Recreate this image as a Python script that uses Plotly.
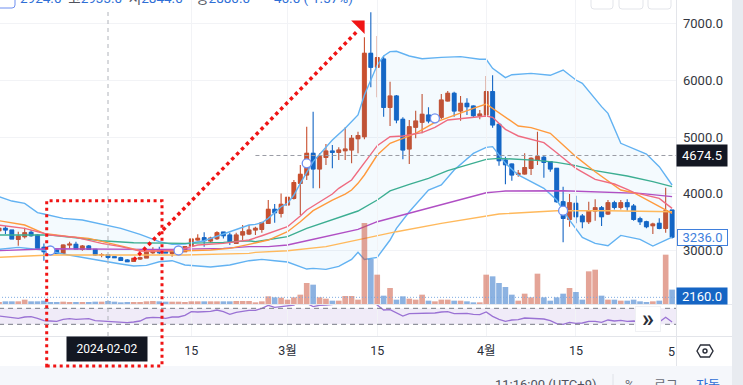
import pandas as pd
import plotly.graph_objects as go

W, H = 743, 385

dates = [d.strftime("%Y-%m-%d") for d in pd.date_range("2024-01-16", "2024-04-30")]

opens = [3349,3391,3361,3197,3244,3320,3273,3056,3021,3009,2950,3097,3109,3021,3079,3021,
 2921,2924,2891,2874,2833,2809,2850,2868,2962,3009,2979,2950,2974,2979,3079,3185,3226,3167,3209,3326,3273,3126,3273,3291,3361,3373,3479,3725,3655,
 3802,3919,4184,4331,4712,4436,4642,4754,4730,4759,4771,4971,5006,6474,6228,6374,5523,5723,5311,4789,5171,5259,5388,5300,5347,5634,5770,5458,5593,5546,5376,
 5388,5799,5223,4595,4524,4342,4348,4448,4595,4642,4566,4448,3860,3549,3831,3608,3508,3696,3755,3643,3843,3761,3843,3784,3561,3508,3438,3479,3391,3714]
highs = [3408,3432,3361,3332,3402,3361,3285,3126,3038,3021,3109,3156,3156,3097,3097,3032,
 2950,2933,2900,2891,2850,2874,2891,3009,3056,3068,3021,3021,3021,3079,3214,3285,3320,3244,3338,3332,3314,3314,3449,3449,3420,3508,3890,3819,4007,
 3949,4243,4507,5182,5447,4712,4877,4859,4818,5171,5035,5094,6756,7197,6780,6433,5975,5740,5347,5300,5464,5758,5523,5388,5758,5811,5799,5723,5681,5558,5476,
 6075,6087,5241,4654,4536,4419,4712,4642,5094,4683,4577,4460,4125,3996,3966,3643,3860,3902,3784,3890,3878,3890,3902,3819,3596,3526,3490,3567,4108,3725]
lows = [3332,3291,3197,3085,3214,3244,3032,2821,2921,2944,2944,3038,3021,2997,3009,2903,
 2880,2844,2868,2821,2792,2797,2833,2868,2938,2938,2950,2891,2950,2974,3068,3173,3068,3138,3185,3214,3097,3115,3185,3273,3273,3314,3467,3490,3584,
 3796,3900,3625,4243,4096,4096,4507,4448,4595,4595,4536,4712,4959,5875,5699,5358,5194,5241,4607,4524,4977,5065,5241,5241,5311,5623,5358,5288,5388,5347,5311,
 5358,5165,4495,4166,4231,4301,4337,4331,4507,4284,4389,3840,3144,3420,3479,3391,3467,3526,3432,3626,3725,3725,3702,3526,3449,3391,3291,3373,3314,3214]
closes = [3391,3361,3203,3256,3314,3261,3038,2979,2950,2950,3097,3115,3026,3079,3021,2921,
 2926,2880,2874,2827,2803,2862,2874,2974,2997,2962,2956,2997,3009,3068,3203,3214,3173,3220,3314,3261,3156,3273,3332,3361,3391,3490,3725,3667,3813,
 3937,4196,4342,4712,4436,4654,4754,4730,4771,4789,4977,5024,6474,6228,6398,5523,5723,5300,4771,5182,5282,5400,5282,5358,5652,5770,5458,5593,5535,5376,5405,
 5799,5212,4583,4513,4331,4360,4460,4624,4654,4554,4436,3860,3567,3843,3596,3508,3696,3755,3596,3843,3761,3843,3772,3549,3508,3420,3467,3391,3702,3236]

volumes = [300,400,400,400,650,400,400,500,300,300,350,300,300,300,300,350,
 350,450,350,250,300,300,300,400,450,400,350,350,350,300,400,400,400,400,400,400,400,450,450,450,250,400,1150,1000,950,
 650,1000,1400,3150,2900,1000,800,500,500,1200,1200,650,12150,6750,4400,1250,2400,650,1150,800,650,1400,500,400,650,650,500,500,400,250,250,
 4400,4150,3150,2550,1400,500,1550,1000,4550,1000,500,1000,1550,2400,1800,650,4900,5150,1250,650,650,500,500,650,400,300,400,500,7400,2160]

rsi_values = [50.8,48.3,46.7,45,48.3,49.2,45,39.2,38.3,37.5,42.5,44.2,42.5,44.2,44.2,39.2,
 38.3,38.3,36.7,35.8,34.2,35.8,38.3,45.8,47.5,46.7,45,48.3,48.3,52.5,61.7,60.8,60.8,62.5,65.8,61.7,55,60,62.5,65,65,70,77.5,72.5,74.2,
 76.7,78.3,86.7,82.5,74.2,77.5,78.3,80,80,82,84,85,92,88,78.3,65.8,66.7,58.3,50.8,56.7,56.7,57.5,56.7,58.3,60.8,61.7,56.7,57.5,57.5,55,54.2,
 60.8,50,42.5,37.5,40.8,41.7,45.8,45,45.8,43.3,39.2,31.7,30,35,32.5,33.3,37.5,37.5,35,40.8,38.3,40,37.5,38.3,36.7,35.8,36.7,35.8,47.5,35.8]

bb_upper_dates = ["01-16","01-18","01-20","01-22","01-23","01-26","01-29","02-01","02-04","02-07","02-10","02-12","02-14","02-17","02-20","02-24","02-25","02-26","02-27","02-28","02-29","03-01","03-02","03-03","03-05","03-08","03-10","03-12","03-13","03-15","03-16","03-17","03-18","03-20","03-22","03-25","03-28","03-31","04-01","04-02","04-03","04-04","04-05","04-08","04-11","04-13","04-15","04-16","04-19","04-20","04-22","04-25","04-26","04-28","04-30"]
bb_upper = [3949,3872,3831,3667,3643,3567,3537,3467,3391,3285,3156,3109,3115,3173,3291,3449,3461,3490,3567,3667,3772,3831,3978,4184,4566,4947,5153,5388,5740,6269,6427,6504,6510,6427,6380,6404,6416,6369,6369,6210,6134,6046,6098,6122,6087,6181,6004,5946,5535,5417,4889,4742,4701,4477,4155]

bb_lower_dates = ["01-16","01-19","01-21","01-23","01-26","01-29","02-01","02-04","02-06","02-08","02-10","02-12","02-14","02-18","02-21","02-24","02-26","02-28","03-01","03-04","03-05","03-07","03-09","03-11","03-12","03-13","03-15","03-17","03-18","03-20","03-23","03-25","03-27","03-30","04-01","04-02","04-03","04-04","04-06","04-08","04-10","04-12","04-14","04-16","04-18","04-20","04-22","04-25","04-27","04-29","04-30"]
bb_lower = [3021,3056,3032,3009,2938,2874,2821,2762,2727,2739,2803,2821,2745,2709,2745,2821,2844,2821,2797,2674,2686,2668,2721,2844,2968,2844,2880,3185,3391,3684,4066,4155,4419,4712,4818,4830,4683,4536,4331,4213,4096,3890,3537,3232,3126,3085,3267,3197,3079,3185,3238]

ma_red_dates = ["01-16","01-20","01-24","01-28","02-01","02-04","02-07","02-10","02-13","02-16","02-20","02-24","02-26","03-01","03-03","03-04","03-08","03-09","03-11","03-13","03-15","03-17","03-19","03-22","03-24","03-26","03-29","04-01","04-02","04-04","04-06","04-10","04-12","04-15","04-18","04-21","04-23","04-24","04-28","04-30"]
ma_red = [3449,3391,3273,3232,3126,3068,2991,2991,3009,3097,3126,3185,3261,3420,3608,3714,3995,4096,4242,4536,4848,5006,5018,5077,5170,5300,5341,5370,5347,5135,5018,4900,4724,4448,4254,4172,4078,4025,3919,3743]

ma_orange_dates = ["01-16","01-20","01-23","01-27","01-30","02-02","02-05","02-07","02-13","02-18","02-21","02-24","02-27","03-01","03-03","03-05","03-08","03-10","03-11","03-12","03-13","03-15","03-17","03-19","03-21","03-24","03-27","03-30","04-01","04-02","04-03","04-04","04-06","04-08","04-11","04-13","04-15","04-18","04-22","04-24","04-28","04-30"]
ma_orange = [3526,3449,3302,3244,3214,3138,3056,2997,2991,3009,3038,3109,3185,3332,3508,3702,3890,3995,4066,4184,4331,4683,4889,4977,5065,5259,5388,5505,5582,5505,5429,5358,5194,5165,5065,4859,4654,4389,4066,4019,3772,3655]

ma_teal_dates = ["01-16","01-24","01-28","02-01","02-06","02-14","02-20","02-24","02-25","02-28","03-01","03-04","03-08","03-12","03-15","03-17","03-20","03-23","03-26","03-29","04-01","04-03","04-06","04-09","04-12","04-15","04-18","04-23","04-27","04-30"]
ma_teal = [3273,3273,3226,3173,3138,3126,3144,3173,3156,3209,3244,3391,3549,3696,3890,4050,4166,4272,4407,4507,4607,4624,4607,4589,4554,4495,4407,4313,4213,4125]

ma_purple_dates = ["01-16","01-24","02-08","02-12","02-20","02-24","02-27","03-01","03-04","03-08","03-12","03-15","03-20","03-25","03-29","04-01","04-03","04-04","04-13","04-18","04-25","04-30"]
ma_purple = [2997,3032,3021,3021,3038,3068,3068,3097,3173,3273,3373,3508,3655,3802,3919,4019,4037,4048,4054,4031,4007,3949]

ma_gold_dates = ["01-16","01-24","02-14","02-24","02-25","03-01","03-07","03-12","03-18","03-25","03-31","04-03","04-12","04-20","04-30"]
ma_gold = [2880,2921,2921,2950,2968,2997,3068,3185,3332,3479,3596,3643,3702,3702,3684]

signal_dates = ["2024-01-24","2024-02-13","2024-03-04","2024-03-24","2024-04-13"]
signal_prices = [3001,3001,4536,5329,3702]

x_tick_dates = ["2024-02-15","2024-03-01","2024-03-15","2024-04-01","2024-04-15"]
x_tick_labels = ["15","3월","15","4월","15"]
y_tick_values = [3000,4000,5000,6000,7000]

FONT = "Roboto, 'Noto Sans CJK KR', sans-serif"
UP, DOWN = "#c9502e", "#1565c4"
GRID = "#f2f3f6"
RED = "#f01414"


def px(v):
    return v / W


def py(v):
    return 1 - v / H


def full(lst):
    return ["2024-" + s for s in lst]


fig = go.Figure()

fig.add_trace(go.Scatter(x=full(bb_upper_dates), y=bb_upper, mode="lines", line=dict(color="#62b2f2", width=1.4), yaxis="y", xaxis="x"))
fig.add_trace(go.Scatter(x=full(bb_lower_dates), y=bb_lower, mode="lines", line=dict(color="#62b2f2", width=1.4),
                         fill="tonexty", fillcolor="rgba(33,150,243,0.05)", yaxis="y", xaxis="x"))
for ds, vals, col in [(ma_gold_dates, ma_gold, "#ffb95c"), (ma_purple_dates, ma_purple, "#b04fc4"),
                      (ma_teal_dates, ma_teal, "#3cae92"), (ma_orange_dates, ma_orange, "#ff9a3d"),
                      (ma_red_dates, ma_red, "#ef6b80")]:
    fig.add_trace(go.Scatter(x=full(ds), y=vals, mode="lines", line=dict(color=col, width=1.4), yaxis="y", xaxis="x"))

body_colors = [UP if c >= o else DOWN for o, c in zip(opens, closes)]
fig.add_trace(go.Bar(x=dates, y=[abs(c - o) for o, c in zip(opens, closes)], base=[min(o, c) for o, c in zip(opens, closes)],
                     width=58000000, marker=dict(color=body_colors, line=dict(color=body_colors, width=0.5)), yaxis="y", xaxis="x"))
fig.add_trace(go.Candlestick(x=dates, open=opens, high=highs, low=lows, close=closes, whiskerwidth=0,
                             increasing=dict(line=dict(color=UP, width=1.1), fillcolor=UP),
                             decreasing=dict(line=dict(color=DOWN, width=1.1), fillcolor=DOWN),
                             yaxis="y", xaxis="x"))
fig.add_trace(go.Scatter(x=signal_dates, y=signal_prices, mode="markers",
                         marker=dict(size=9, color="white", line=dict(color="#6f8ff0", width=1.3)), yaxis="y", xaxis="x"))

vol_colors = ["rgba(205,90,65,0.55)" if c >= o else "rgba(45,115,200,0.55)" for o, c in zip(opens, closes)]
fig.add_trace(go.Bar(x=dates, y=volumes, marker=dict(color=vol_colors, line=dict(width=0)), yaxis="y2", xaxis="x"))
fig.add_trace(go.Scatter(x=dates, y=rsi_values, mode="lines", line=dict(color="#9a72d4", width=1.3), yaxis="y3", xaxis="x"))

# arrow head marker on the main pane
fig.add_trace(go.Scatter(x=["2024-03-12 08:00"], y=[6975], mode="markers",
                         marker=dict(symbol="triangle-ne", size=15, color=RED, line=dict(width=0)), yaxis="y", xaxis="x"))

shapes = [
    dict(type="rect", xref="paper", yref="paper", x0=0, x1=px(732), y0=py(385), y1=py(366), fillcolor="#f5f7fb", line=dict(width=0), layer="below"),
    dict(type="rect", xref="paper", yref="paper", x0=px(732), x1=1, y0=0, y1=1, fillcolor="#e8ebf0", line=dict(width=0), layer="below"),
    dict(type="rect", xref="x", yref="y3", x0="2024-01-16", x1="2024-05-05", y0=30, y1=70, fillcolor="#f0ebf8", line=dict(width=0), layer="below"),
    dict(type="line", xref="x", yref="y3", x0="2024-01-16", x1="2024-05-05", y0=70, y1=70, line=dict(color="#787b86", width=1, dash="5px,4px")),
    dict(type="line", xref="x", yref="y3", x0="2024-01-16", x1="2024-05-05", y0=30, y1=30, line=dict(color="#787b86", width=1, dash="5px,4px")),
    dict(type="line", xref="x", yref="y2", x0="2024-01-16", x1="2024-05-05", y0=1000, y1=1000, line=dict(color="#7aa8e0", width=1, dash="1px,2px")),
    dict(type="line", xref="x", yref="y", x0="2024-02-25", x1="2024-05-05", y0=4674.5, y1=4674.5, line=dict(color="#9a9ca5", width=1, dash="4px,3px")),
    dict(type="line", xref="x", yref="paper", x0="2024-02-02", x1="2024-02-02", y0=py(336), y1=py(8), line=dict(color="#b0b3ba", width=1, dash="4px,4px")),
    dict(type="line", xref="paper", yref="paper", x0=0, x1=px(732), y0=py(304.5), y1=py(304.5), line=dict(color="#e6e8ee", width=1)),
    dict(type="line", xref="paper", yref="paper", x0=0, x1=px(732), y0=py(336.5), y1=py(336.5), line=dict(color="#e3e5ea", width=1)),
    dict(type="line", xref="paper", yref="paper", x0=px(676.5), x1=px(676.5), y0=py(366), y1=1, line=dict(color="#e3e5ea", width=1)),
    dict(type="line", xref="paper", yref="paper", x0=px(613), x1=px(613), y0=0, y1=py(374), line=dict(color="#dfe2e8", width=1)),
    # red annotations
    dict(type="line", xref="x", yref="y", x0="2024-02-06", x1="2024-03-11 18:00", y0=2833, y1=6850, line=dict(color=RED, width=3.5, dash="3.5px,3.5px")),
    dict(type="rect", xref="paper", yref="paper", x0=px(46.7), x1=px(162), y0=py(366), y1=py(200.7), line=dict(color=RED, width=3, dash="3px,3.5px"), layer="above"),
    # top controls
    dict(type="path", xref="paper", yref="paper", path=f"M {px(0)} {py(8)} L {px(12)} {py(8)} Q {px(15)} {py(8)} {px(15)} {py(5)} L {px(15)} 1", line=dict(color="#6f8ff0", width=1)),
]
for a, b in [(591, 613), (619, 643), (648, 671)]:
    shapes.append(dict(type="path", xref="paper", yref="paper",
                       path=f"M {px(a)} 1 L {px(a)} {py(6)} Q {px(a)} {py(9)} {px(a+3)} {py(9)} L {px(b-3)} {py(9)} Q {px(b)} {py(9)} {px(b)} {py(6)} L {px(b)} 1",
                       line=dict(color="#e3e5ea", width=1), fillcolor="white"))
# settings icon (hexagon)
hex_pts = [(697, 351), (700.5, 345), (709.5, 345), (713, 351), (709.5, 357), (700.5, 357)]
shapes.append(dict(type="path", xref="paper", yref="paper",
                   path="M " + " L ".join(f"{px(a)} {py(b)}" for a, b in hex_pts) + " Z",
                   line=dict(color="#2a2e39", width=1.4)))
shapes.append(dict(type="circle", xref="paper", yref="paper", x0=px(703), x1=px(707), y0=py(353), y1=py(349), line=dict(color="#2a2e39", width=1.4)))

TXT = "#2a2e39"


def note(text, x, y, color=TXT, size=13, xanchor="center", yanchor="middle", **kw):
    return dict(text=text, xref="paper", yref="paper", x=px(x), y=py(y), showarrow=False, xanchor=xanchor, yanchor=yanchor,
                font=dict(family=FONT, size=size, color=color), **kw)


B = "#2f6fd6"
G = "#50535e"
SP = "\u00a0\u00a0"
header = (f'<span style="color:{B}">2924.0</span>{SP}<span style="color:{G}">고</span><span style="color:{B}">2933.0</span>{SP}'
          f'<span style="color:{G}">저</span><span style="color:{B}">2844.0</span>{SP}{SP}<span style="color:{G}">종</span><span style="color:{B}">2880.0</span>{SP}{SP}{SP}'
          f'<span style="color:{B}">-46.0 (-1.57%)</span>')

annotations = [
    note(header, 18, 8, size=13.5, xanchor="left", yanchor="bottom"),
    note("4674.5", 702, 155.5, color="white", size=13, bgcolor="#131722", width=50, height=21, borderpad=0),
    note("3236.0", 702, 237, color="#3f7fdc", size=13, bgcolor="white", bordercolor="#3f7fdc", borderwidth=1, width=49, height=15, borderpad=0),
    note("2160.0", 702, 295.5, color="white", size=13, bgcolor="#1565c4", width=50, height=16, borderpad=0),
    note("2024-02-02", 107, 349, color="white", size=12, bgcolor="#131722", width=80, height=24, borderpad=0),
    note("<b>»</b>", 647.5, 318.5, color=TXT, size=24, bgcolor="white", bordercolor="#f0f1f4", borderwidth=1, width=24, height=24, borderpad=0),
    note("5", 671, 351, size=12.5),
    note("11:16:00 (UTC+9)", 546, 375, color="#50535e", size=13, yanchor="top"),
    note("%", 630, 375, color="#6a6d78", size=13, yanchor="top"),
    note("로그", 666, 375, color="#6a6d78", size=13, yanchor="top"),
    note("자동", 708, 375, color="#2f6fd6", size=13, yanchor="top"),
]

fig.update_layout(
    width=W, height=H, autosize=False, margin=dict(l=0, r=0, t=0, b=0),
    paper_bgcolor="white", plot_bgcolor="rgba(0,0,0,0)", showlegend=False, hovermode=False,
    bargap=0.12, barmode="overlay", font=dict(family=FONT, color=TXT),
    xaxis=dict(domain=[0, 676 / W], type="date", range=["2024-01-16 03:36", "2024-04-30 14:40"], anchor="y3",
               tickmode="array", tickvals=x_tick_dates, ticktext=x_tick_labels, ticks="", showline=False,
               showgrid=True, gridcolor=GRID, gridwidth=1, rangeslider=dict(visible=False),
               tickfont=dict(family=FONT, size=12.5, color=TXT), ticklabelstandoff=5, zeroline=False),
    yaxis=dict(domain=[py(304), 1], range=[2058, 7414], side="right", anchor="x", tickmode="array", tickvals=y_tick_values,
               tickformat=".1f", ticks="", showline=False, showgrid=True, gridcolor=GRID, zeroline=False,
               tickfont=dict(family=FONT, size=13, color="#333740"), ticklabelstandoff=6),
    yaxis2=dict(domain=[py(304), 1], range=[0, 45600], anchor="x", side="right", showticklabels=False, showgrid=False, zeroline=False, ticks=""),
    yaxis3=dict(domain=[py(336), py(305)], range=[0.8, 78.3], anchor="x", side="right", showticklabels=False, showgrid=False, zeroline=False, ticks=""),
    shapes=shapes, annotations=annotations,
)

fig.write_html("out.html", config={"displayModeBar": False},
               post_script="document.body.style.margin='0';document.body.style.overflow='hidden';")
